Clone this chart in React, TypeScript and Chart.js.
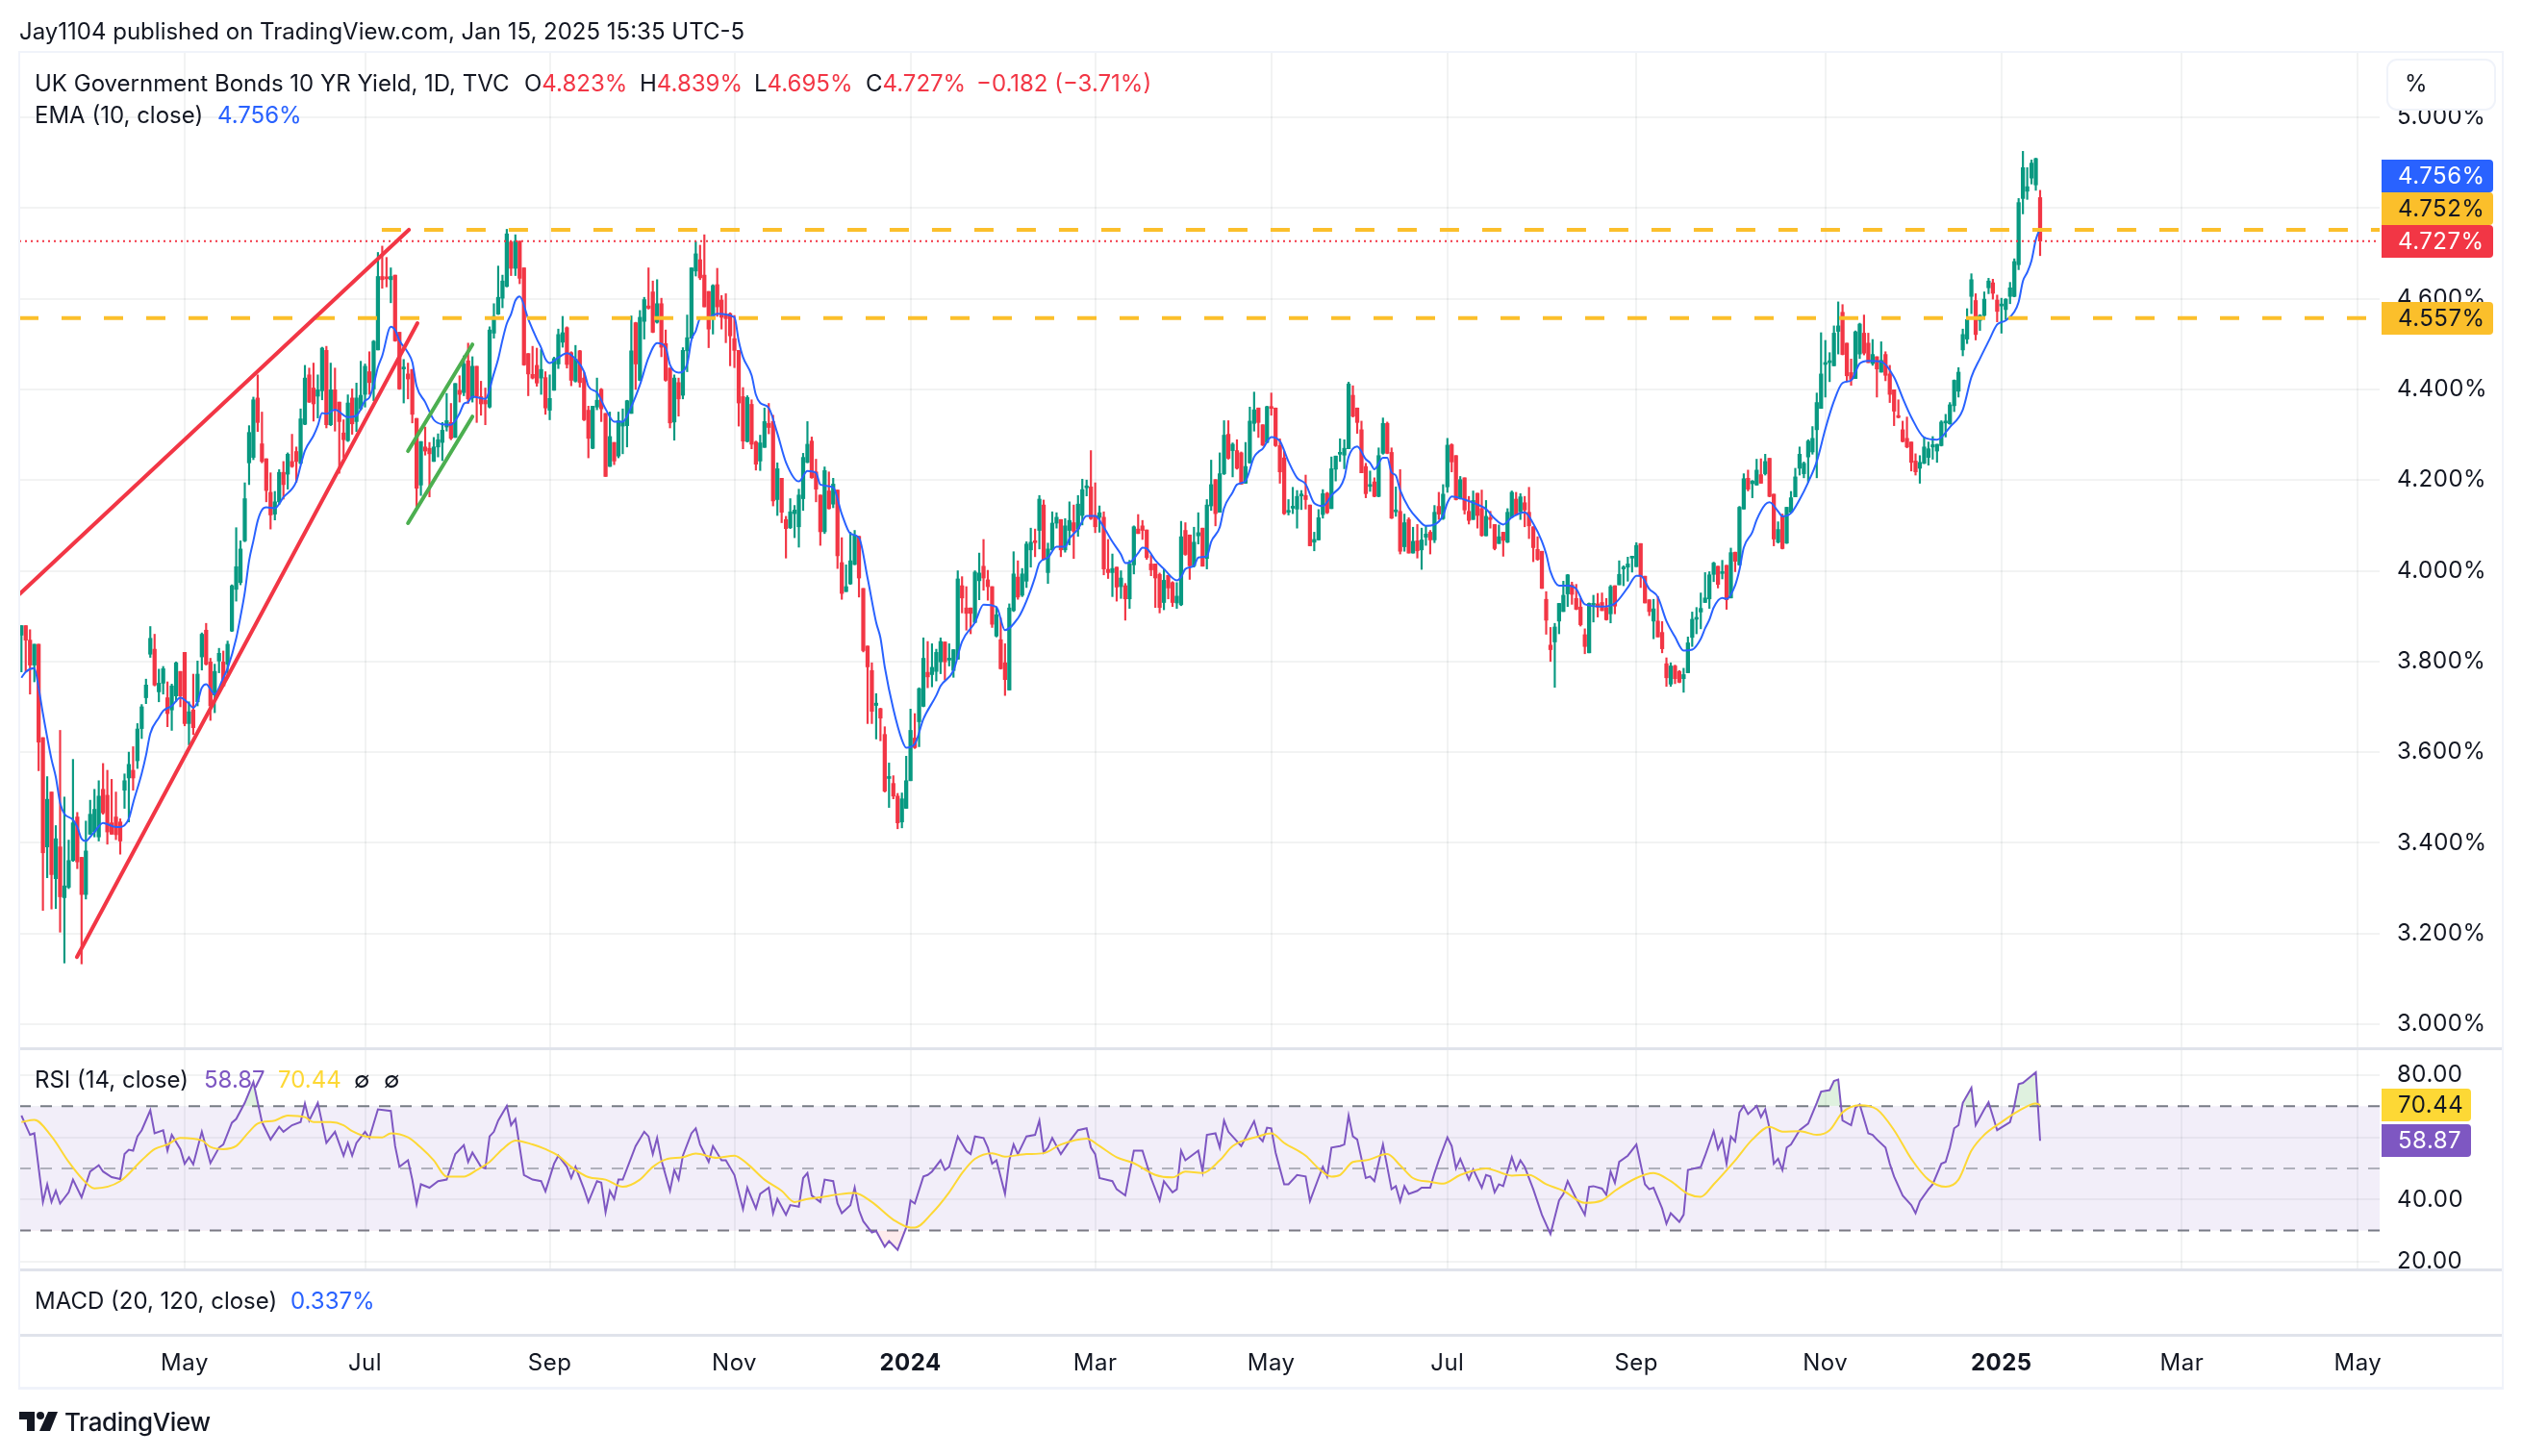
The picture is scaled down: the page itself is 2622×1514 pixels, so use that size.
import React, { useEffect, useRef } from "react";
import { Chart, registerables } from "chart.js";

Chart.register(...registerables);

// Daily candles as [open, high, low, close], oldest first.
const barsSpring2023 = [
[3.858,3.879,3.777,3.879],[3.879,3.879,3.777,3.847],[3.847,3.870,3.728,3.792],[3.792,3.838,3.755,3.838],[3.838,3.838,3.559,3.622],[3.632,3.632,3.251,3.378],[3.391,3.546,3.323,3.496],[3.512,3.512,3.254,3.330],[3.321,3.438,3.255,3.409],[3.391,3.648,3.203,3.281],
[3.279,3.501,3.135,3.305],[3.302,3.406,3.299,3.361],[3.361,3.584,3.359,3.444],[3.457,3.467,3.343,3.358],[3.368,3.368,3.133,3.286],[3.286,3.448,3.276,3.382],[3.419,3.494,3.418,3.463],[3.424,3.518,3.413,3.474],[3.413,3.537,3.404,3.503],[3.518,3.575,3.463,3.466],
[3.505,3.560,3.397,3.424],[3.444,3.540,3.419,3.419],[3.457,3.512,3.407,3.418],[3.446,3.453,3.375,3.404],[3.516,3.552,3.476,3.537],[3.543,3.600,3.446,3.573],[3.560,3.612,3.516,3.543],[3.581,3.663,3.564,3.651],[3.652,3.705,3.630,3.700],[3.720,3.761,3.707,3.748],
[3.816,3.877,3.809,3.851],[3.827,3.860,3.746,3.748],[3.733,3.783,3.711,3.752],[3.752,3.789,3.728,3.784],[3.720,3.755,3.656,3.685],[3.693,3.750,3.648,3.746],[3.724,3.799,3.711,3.797],[3.778,3.778,3.700,3.724],[3.820,3.820,3.658,3.663],[3.663,3.711,3.616,3.689],
[3.693,3.772,3.639,3.654],[3.711,3.801,3.702,3.772],[3.810,3.863,3.781,3.860],[3.869,3.884,3.792,3.794],[3.799,3.807,3.670,3.702],[3.726,3.794,3.687,3.778],[3.801,3.829,3.775,3.818],[3.799,3.823,3.746,3.746],[3.794,3.845,3.766,3.838],[3.867,3.969,3.866,3.967],
[3.959,4.095,3.933,4.009],[3.974,4.066,3.969,4.048],[4.066,4.194,4.064,4.159],[4.238,4.320,4.190,4.305],[4.250,4.383,4.245,4.377],[4.381,4.432,4.307,4.327],[4.280,4.350,4.238,4.241],[4.247,4.247,4.152,4.177],[4.173,4.216,4.092,4.123],[4.125,4.175,4.112,4.152],
[4.152,4.223,4.146,4.217],[4.217,4.241,4.158,4.190],[4.213,4.260,4.180,4.257],[4.241,4.301,4.228,4.230],[4.263,4.273,4.195,4.241],[4.237,4.357,4.235,4.335],[4.323,4.453,4.322,4.425],[4.432,4.447,4.371,4.372],[4.403,4.458,4.330,4.368],[4.385,4.432,4.337,4.399],
[4.397,4.493,4.377,4.491],[4.486,4.495,4.315,4.322],[4.322,4.458,4.320,4.399],[4.399,4.447,4.308,4.357],[4.372,4.372,4.215,4.329],[4.304,4.333,4.250,4.289],[4.287,4.388,4.285,4.370],[4.381,4.401,4.301,4.324],[4.329,4.414,4.307,4.381],
];
const barsSummer2023 = [
[4.357,4.462,4.354,4.387],[4.389,4.456,4.361,4.451],[4.439,4.483,4.389,4.415],[4.401,4.508,4.375,4.506],[4.487,4.702,4.487,4.649],[4.649,4.716,4.623,4.642],[4.647,4.691,4.626,4.644],[4.642,4.668,4.591,4.649],[4.652,4.652,4.506,4.507],[4.526,4.526,4.400,4.401],
[4.445,4.466,4.370,4.448],[4.434,4.458,4.379,4.423],[4.444,4.444,4.326,4.345],[4.336,4.336,4.136,4.182],[4.189,4.285,4.166,4.285],[4.273,4.317,4.255,4.264],[4.270,4.283,4.163,4.258],[4.241,4.294,4.241,4.273],[4.273,4.302,4.251,4.289],[4.283,4.327,4.243,4.310],
[4.317,4.391,4.308,4.331],[4.327,4.369,4.289,4.292],[4.294,4.413,4.294,4.413],[4.398,4.430,4.372,4.389],[4.393,4.474,4.386,4.456],[4.463,4.502,4.369,4.379],[4.381,4.472,4.372,4.451],[4.451,4.451,4.327,4.384],[4.384,4.418,4.343,4.368],[4.376,4.403,4.322,4.368],
[4.361,4.538,4.359,4.531],[4.524,4.589,4.513,4.561],[4.566,4.672,4.565,4.603],[4.601,4.652,4.580,4.639],[4.627,4.753,4.626,4.743],[4.725,4.727,4.651,4.667],[4.667,4.741,4.651,4.727],[4.727,4.727,4.633,4.645],[4.668,4.668,4.453,4.454],[4.479,4.479,4.386,4.434],
[4.433,4.495,4.423,4.425],[4.453,4.491,4.407,4.414],[4.425,4.488,4.389,4.444],[4.426,4.439,4.345,4.359],[4.354,4.432,4.333,4.380],[4.398,4.471,4.398,4.468],[4.456,4.533,4.446,4.521],[4.504,4.561,4.493,4.525],[4.536,4.538,4.447,4.455],[4.481,4.483,4.408,4.420],
[4.418,4.497,4.416,4.467],[4.485,4.486,4.405,4.415],[4.425,4.437,4.331,4.333],[4.354,4.363,4.249,4.292],[4.270,4.363,4.269,4.363],[4.361,4.425,4.355,4.376],[4.400,4.402,4.329,4.357],[4.347,4.347,4.208,4.208],[4.230,4.350,4.230,4.296],[4.283,4.283,4.234,4.242],
[4.253,4.350,4.249,4.331],[4.319,4.357,4.258,4.329],[4.320,4.376,4.273,4.375],[4.347,4.562,4.347,4.485],[4.547,4.548,4.400,4.456],[4.420,4.574,4.419,4.559],[4.550,4.603,4.511,4.598],[4.584,4.668,4.577,4.579],[4.615,4.639,4.525,4.526],[4.548,4.642,4.546,4.589],
[4.589,4.601,4.472,4.493],[4.501,4.531,4.418,4.420],[4.447,4.447,4.315,4.326],[4.328,4.432,4.288,4.425],[4.415,4.425,4.341,4.379],[4.387,4.492,4.379,4.486],[4.485,4.564,4.439,4.514],[4.513,4.668,4.513,4.668],
];
const barsWinter2023 = [
[4.661,4.726,4.650,4.699],[4.686,4.718,4.642,4.646],[4.652,4.741,4.582,4.582],[4.616,4.616,4.492,4.533],[4.559,4.631,4.522,4.629],[4.631,4.667,4.561,4.582],[4.597,4.607,4.533,4.559],[4.563,4.611,4.503,4.556],[4.567,4.569,4.452,4.518],[4.512,4.563,4.448,4.486],
[4.486,4.486,4.319,4.370],[4.384,4.404,4.269,4.286],[4.285,4.386,4.284,4.382],[4.367,4.377,4.269,4.279],[4.284,4.286,4.222,4.235],[4.242,4.299,4.221,4.282],[4.272,4.359,4.272,4.329],[4.325,4.369,4.302,4.316],[4.329,4.343,4.143,4.154],[4.157,4.238,4.122,4.225],
[4.204,4.204,4.106,4.129],[4.113,4.120,4.028,4.093],[4.095,4.159,4.093,4.130],[4.126,4.144,4.073,4.134],[4.097,4.180,4.052,4.167],[4.159,4.259,4.133,4.250],[4.239,4.329,4.238,4.279],[4.286,4.295,4.204,4.205],[4.218,4.246,4.152,4.180],[4.167,4.167,4.056,4.086],
[4.086,4.229,4.082,4.221],[4.176,4.218,4.136,4.137],[4.147,4.204,4.139,4.191],[4.178,4.178,4.005,4.033],[4.018,4.073,3.937,3.950],[3.954,4.013,3.954,3.965],[3.971,4.085,3.970,4.022],[4.014,4.089,4.013,4.078],[4.076,4.076,3.942,3.984],[3.961,3.961,3.821,3.824],
[3.834,3.834,3.663,3.788],[3.780,3.797,3.663,3.690],[3.703,3.729,3.629,3.708],[3.696,3.697,3.625,3.675],[3.639,3.656,3.512,3.514],[3.542,3.576,3.478,3.545],[3.531,3.548,3.497,3.503],[3.503,3.509,3.431,3.444],[3.446,3.510,3.433,3.497],[3.476,3.591,3.476,3.537],
[3.537,3.695,3.537,3.648],[3.631,3.685,3.608,3.610],[3.667,3.742,3.612,3.740],[3.701,3.852,3.700,3.807],[3.776,3.844,3.742,3.766],[3.771,3.839,3.744,3.787],[3.778,3.827,3.757,3.820],[3.799,3.852,3.773,3.844],[3.843,3.843,3.759,3.799],[3.803,3.839,3.790,3.805],
[3.780,3.826,3.765,3.826],[3.805,4.000,3.805,3.982],[3.967,3.987,3.907,3.940],[3.918,3.965,3.869,3.906],[3.918,3.918,3.861,3.906],[3.886,4.000,3.885,3.997],[3.978,4.039,3.936,3.995],[4.010,4.069,3.957,3.984],[3.980,4.001,3.935,3.965],[3.965,3.965,3.875,3.882],
[3.856,3.920,3.854,3.903],[3.848,3.896,3.783,3.784],[3.797,3.839,3.725,3.760],[3.737,3.927,3.737,3.918],[3.912,4.042,3.910,3.993],[3.986,4.022,3.937,3.942],[3.946,4.005,3.943,3.993],[3.977,4.064,3.963,4.059],
];
const barsSpring2024 = [
[4.046,4.094,4.008,4.063],[4.065,4.092,4.031,4.062],[4.089,4.166,4.048,4.158],[4.145,4.156,4.024,4.025],[3.996,4.061,3.972,4.048],[4.046,4.130,4.045,4.105],[4.105,4.128,4.094,4.118],[4.113,4.113,4.031,4.046],[4.046,4.115,4.041,4.099],[4.089,4.152,4.057,4.111],
[4.106,4.145,4.027,4.087],[4.092,4.166,4.076,4.147],[4.122,4.202,4.101,4.179],[4.183,4.200,4.165,4.185],[4.185,4.265,4.113,4.115],[4.122,4.194,4.084,4.097],[4.118,4.143,4.085,4.128],[4.118,4.130,3.991,4.004],[4.003,4.069,3.983,3.996],[3.996,4.037,3.943,4.005],
[4.008,4.008,3.933,3.964],[3.965,4.000,3.939,3.984],[3.967,3.972,3.891,3.938],[3.938,4.023,3.917,4.015],[4.013,4.099,3.993,4.097],[4.092,4.124,4.082,4.082],[4.099,4.111,4.069,4.089],[4.090,4.090,4.025,4.029],[4.015,4.034,3.989,4.002],[4.015,4.015,3.919,3.984],
[3.992,3.995,3.907,3.919],[3.930,4.004,3.914,3.979],[3.990,3.990,3.938,3.962],[3.974,3.976,3.921,3.930],[3.929,3.974,3.917,3.944],[3.925,4.109,3.923,4.075],[4.089,4.106,4.034,4.036],[4.079,4.079,3.981,4.011],[4.011,4.096,4.008,4.063],[4.077,4.128,4.059,4.084],
[4.094,4.094,4.010,4.010],[4.027,4.157,4.004,4.145],[4.143,4.244,4.133,4.190],[4.201,4.201,4.099,4.126],[4.129,4.260,4.129,4.214],[4.214,4.331,4.212,4.299],[4.301,4.331,4.246,4.248],[4.265,4.282,4.207,4.279],[4.265,4.289,4.224,4.226],[4.260,4.262,4.191,4.191],
[4.193,4.283,4.193,4.230],[4.238,4.361,4.237,4.330],[4.325,4.394,4.308,4.355],[4.359,4.359,4.294,4.327],[4.322,4.322,4.276,4.277],[4.283,4.363,4.282,4.362],[4.361,4.392,4.343,4.358],[4.359,4.359,4.274,4.276],[4.276,4.291,4.193,4.218],[4.249,4.264,4.124,4.126],
[4.129,4.157,4.123,4.132],[4.138,4.184,4.126,4.141],[4.136,4.177,4.094,4.164],[4.165,4.177,4.135,4.168],[4.166,4.211,4.136,4.157],[4.145,4.145,4.055,4.055],[4.063,4.085,4.044,4.069],[4.068,4.135,4.068,4.117],[4.124,4.179,4.116,4.170],[4.171,4.173,4.126,4.128],
[4.137,4.251,4.137,4.225],[4.224,4.253,4.198,4.253],[4.257,4.291,4.241,4.260],[4.255,4.289,4.225,4.270],[4.269,4.416,4.269,4.412],[4.387,4.408,4.339,4.341],[4.359,4.359,4.303,4.327],[4.311,4.330,4.216,4.216],[4.230,4.237,4.161,4.170],
];
const barsSummer2024 = [
[4.186,4.220,4.175,4.189],[4.196,4.205,4.163,4.164],[4.164,4.271,4.163,4.254],[4.259,4.337,4.257,4.325],[4.325,4.328,4.258,4.259],[4.261,4.271,4.115,4.116],[4.130,4.185,4.120,4.133],[4.131,4.223,4.037,4.043],[4.053,4.125,4.043,4.106],[4.113,4.117,4.039,4.039],
[4.039,4.096,4.039,4.065],[4.066,4.102,4.028,4.044],[4.046,4.094,4.003,4.068],[4.074,4.099,4.056,4.081],[4.085,4.089,4.037,4.068],[4.068,4.144,4.062,4.129],[4.142,4.173,4.113,4.125],[4.115,4.190,4.113,4.169],[4.185,4.292,4.173,4.277],[4.278,4.280,4.218,4.240],
[4.254,4.254,4.156,4.157],[4.159,4.208,4.158,4.201],[4.205,4.205,4.125,4.134],[4.131,4.164,4.103,4.111],[4.113,4.176,4.113,4.155],[4.171,4.171,4.094,4.122],[4.137,4.178,4.076,4.078],[4.077,4.155,4.077,4.120],[4.116,4.131,4.094,4.113],[4.102,4.102,4.046,4.049],
[4.060,4.101,4.060,4.075],[4.085,4.085,4.032,4.067],[4.063,4.137,4.062,4.129],[4.118,4.176,4.117,4.173],[4.158,4.173,4.122,4.124],[4.130,4.170,4.113,4.163],[4.150,4.164,4.097,4.134],[4.129,4.184,4.071,4.099],[4.097,4.097,4.020,4.051],[4.047,4.075,4.023,4.025],
[4.043,4.043,3.961,3.961],[3.937,3.954,3.860,3.891],[3.836,3.875,3.800,3.826],[3.843,3.884,3.743,3.876],[3.889,3.928,3.861,3.928],[3.910,3.977,3.910,3.946],[3.949,3.992,3.921,3.991],[3.969,3.975,3.926,3.948],[3.939,3.970,3.914,3.915],[3.920,3.939,3.878,3.881],
[3.859,3.872,3.817,3.833],[3.819,3.929,3.819,3.928],[3.924,3.946,3.887,3.927],[3.927,3.950,3.898,3.920],[3.930,3.951,3.912,3.912],[3.919,3.939,3.891,3.892],[3.905,3.968,3.885,3.965],[3.967,3.967,3.905,3.922],[3.969,4.022,3.969,3.992],[4.004,4.011,3.967,4.007],
[4.008,4.030,3.977,4.015],[4.028,4.032,3.997,4.032],[4.009,4.062,4.009,4.056],[4.060,4.060,3.963,3.988],[3.988,3.988,3.929,3.929],[3.936,3.936,3.901,3.910],[3.889,3.937,3.850,3.916],[3.889,3.943,3.854,3.854],[3.864,3.888,3.819,3.828],[3.795,3.808,3.745,3.764],
[3.750,3.797,3.745,3.790],[3.790,3.792,3.751,3.762],[3.778,3.780,3.753,3.754],[3.762,3.785,3.732,3.771],[3.775,3.854,3.775,3.841],[3.853,3.909,3.833,3.893],[3.893,3.919,3.861,3.896],[3.909,3.951,3.872,3.917],
];
const barsWinter2024 = [
[3.930,3.996,3.930,3.940],[3.938,3.998,3.917,3.991],[3.992,4.019,3.976,4.017],[4.010,4.010,3.962,3.970],[3.994,4.023,3.982,3.998],[4.012,4.012,3.915,3.936],[3.940,4.050,3.940,4.040],[4.041,4.041,3.998,4.021],[4.013,4.142,4.012,4.140],[4.136,4.214,4.136,4.203],
[4.204,4.222,4.176,4.180],[4.192,4.199,4.161,4.198],[4.189,4.246,4.189,4.222],[4.212,4.247,4.193,4.193],[4.214,4.257,4.211,4.241],[4.248,4.248,4.163,4.164],[4.169,4.169,4.055,4.070],[4.063,4.108,4.061,4.091],[4.120,4.125,4.048,4.049],[4.061,4.140,4.060,4.140],
[4.129,4.175,4.129,4.161],[4.163,4.226,4.163,4.207],[4.226,4.273,4.211,4.257],[4.214,4.240,4.205,4.237],[4.251,4.289,4.195,4.286],[4.262,4.318,4.257,4.292],[4.311,4.392,4.205,4.371],[4.358,4.525,4.358,4.434],[4.455,4.508,4.383,4.458],[4.459,4.481,4.417,4.462],
[4.452,4.540,4.452,4.524],[4.528,4.593,4.478,4.540],[4.570,4.587,4.476,4.477],[4.502,4.502,4.417,4.430],[4.437,4.467,4.409,4.422],[4.424,4.529,4.424,4.527],[4.478,4.546,4.468,4.544],[4.524,4.564,4.476,4.480],[4.502,4.524,4.459,4.459],[4.457,4.510,4.453,4.477],
[4.472,4.472,4.383,4.445],[4.438,4.505,4.438,4.464],[4.477,4.483,4.419,4.431],[4.434,4.453,4.371,4.389],[4.399,4.399,4.320,4.352],[4.341,4.377,4.337,4.338],[4.311,4.330,4.284,4.285],[4.292,4.339,4.271,4.273],[4.284,4.284,4.220,4.239],[4.242,4.258,4.211,4.218],
[4.226,4.254,4.193,4.239],[4.237,4.295,4.236,4.273],[4.250,4.284,4.233,4.269],[4.273,4.296,4.246,4.278],[4.264,4.279,4.239,4.279],[4.276,4.331,4.275,4.328],[4.326,4.345,4.295,4.329],[4.324,4.371,4.323,4.366],[4.364,4.421,4.351,4.420],[4.396,4.448,4.383,4.438],
[4.487,4.533,4.474,4.521],[4.511,4.578,4.501,4.554],[4.605,4.655,4.567,4.642],[4.596,4.611,4.509,4.521],[4.552,4.565,4.530,4.563],[4.563,4.615,4.561,4.599],[4.624,4.645,4.611,4.639],[4.635,4.643,4.599,4.612],[4.597,4.608,4.549,4.572],[4.584,4.601,4.524,4.587],
[4.576,4.600,4.554,4.599],[4.605,4.636,4.589,4.624],[4.605,4.688,4.604,4.682],[4.675,4.821,4.664,4.812],[4.821,4.925,4.787,4.889],[4.837,4.889,4.819,4.847],[4.866,4.906,4.853,4.899],[4.851,4.910,4.839,4.909],[4.823,4.839,4.695,4.727],
];

// EMA (10) as [bar index, value].
const emaPoints = [
[0,3.764],[1,3.777],[3,3.785],[4,3.742],[5,3.685],[7,3.584],[8,3.545],[9,3.488],[10,3.464],[12,3.451],[13,3.435],[14,3.409],[15,3.404],[16,3.413],[17,3.424],[19,3.444],[20,3.441],[22,3.435],[23,3.435],[25,3.453],[26,3.488],[28,3.553],[29,3.593],[30,3.641],[32,3.676],[33,3.691],[35,3.702],[37,3.720],[39,3.707],[40,3.698],[41,3.711],[42,3.742],[43,3.750],[45,3.728],[47,3.764],[48,3.785],[50,3.851],[51,3.899],[52,3.952],[53,4.022],[54,4.066],[55,4.110],[56,4.134],[57,4.140],[59,4.138],[61,4.162],[64,4.197],[65,4.232],[66,4.265],[68,4.298],[69,4.320],[70,4.348],[71,4.346],[73,4.355],[76,4.339],[78,4.342],
[80,4.375],[81,4.382],[82,4.410],[83,4.449],[84,4.474],[86,4.538],[87,4.531],[88,4.508],[90,4.481],[91,4.460],[92,4.407],[94,4.372],[96,4.333],[98,4.323],[100,4.322],[102,4.347],[103,4.368],[104,4.372],[105,4.384],[108,4.379],[110,4.435],[111,4.467],[112,4.509],[113,4.545],[114,4.566],[115,4.596],[116,4.605],[118,4.555],[120,4.511],[121,4.492],[122,4.467],[123,4.458],[125,4.470],[127,4.480],[129,4.467],[131,4.439],[132,4.407],[134,4.393],[136,4.357],[138,4.329],[140,4.329],[142,4.362],[144,4.410],[146,4.470],[148,4.502],[150,4.492],[151,4.454],[153,4.437],[155,4.456],[156,4.509],
[157,4.529],[158,4.556],[160,4.559],[162,4.567],[166,4.559],[167,4.507],[168,4.471],[170,4.431],[171,4.388],[172,4.370],[174,4.359],[176,4.303],[178,4.239],[181,4.197],[183,4.220],[185,4.216],[186,4.190],[189,4.184],[191,4.125],[193,4.082],[195,4.073],[197,3.984],[199,3.886],[200,3.852],[201,3.788],[203,3.695],[205,3.627],[206,3.610],[208,3.618],[210,3.673],[213,3.725],[214,3.746],[217,3.780],[219,3.844],[222,3.886],[224,3.925],[227,3.920],[229,3.869],[232,3.895],[233,3.912],
[235,3.958],[236,3.986],[237,4.017],[239,4.029],[241,4.053],[243,4.053],[244,4.071],[246,4.092],[248,4.121],[250,4.121],[252,4.096],[254,4.064],[256,4.036],[257,4.017],[258,4.018],[260,4.039],[261,4.051],[262,4.049],[264,4.023],[266,4.004],[269,3.979],[270,3.986],[271,4.004],[273,4.011],[274,4.029],[276,4.032],[277,4.064],[279,4.096],[280,4.138],[282,4.173],[283,4.190],[285,4.198],[287,4.251],[288,4.262],[289,4.269],[291,4.295],[293,4.286],[295,4.241],[297,4.205],[299,4.191],[301,4.149],[303,4.143],[305,4.166],[308,4.205],[309,4.251],[311,4.274],[313,4.246],
[314,4.238],[315,4.224],[317,4.249],[318,4.249],[319,4.217],[320,4.210],[321,4.178],[323,4.139],[325,4.115],[327,4.099],[329,4.102],[331,4.122],[332,4.150],[333,4.164],[336,4.157],[339,4.146],[341,4.136],[343,4.115],[345,4.102],[347,4.118],[350,4.129],[352,4.104],[354,4.065],[355,4.037],[356,3.998],[358,3.967],[360,3.967],[362,3.960],[364,3.926],[368,3.921],[371,3.928],[374,3.963],[376,3.989],[377,3.989],[379,3.960],[381,3.942],[383,3.889],[385,3.854],[387,3.824],[389,3.826],[391,3.850],
[392,3.873],[393,3.892],[394,3.919],[396,3.940],[397,3.938],[399,3.968],[400,4.002],[401,4.051],[403,4.085],[404,4.112],[406,4.146],[407,4.151],[409,4.131],[410,4.120],[412,4.127],[414,4.157],[416,4.195],[418,4.241],[420,4.313],[422,4.374],[424,4.414],[426,4.420],[428,4.457],[430,4.463],[433,4.461],[436,4.427],[438,4.381],[440,4.339],[443,4.294],[446,4.289],[449,4.317],[452,4.355],[454,4.427],[456,4.468],[458,4.506],[460,4.543],[462,4.552],[464,4.571],[465,4.593],[466,4.639],[467,4.658],[468,4.684],[469,4.730],[470,4.756],
];

// RSI (14) as [bar index, value].
const rsiPoints = [
[0,67.0],[1,63.9],[2,60.8],[3,61.3],[5,39.2],[6,44.9],[7,39.2],[8,42.8],[9,38.7],[11,42.3],[12,46.4],[14,40.7],[16,49.0],[17,50.0],[18,51.0],[19,49.0],[21,47.2],[23,46.6],[24,54.6],[25,56.0],[26,55.7],[27,60.3],[28,62.3],[30,68.7],[31,61.3],[33,62.3],[34,55.7],[35,60.8],[37,56.2],[38,51.5],[39,53.6],[40,51.3],[42,61.8],[44,51.7],[46,56.7],[47,57.7],[49,64.7],[50,65.9],[52,71.1],[54,77.8],[56,64.9],[58,59.3],[60,63.4],[61,61.8],[63,63.9],[65,64.9],[66,70.9],[67,65.4],[69,71.1],[71,58.2],[73,61.8],[75,54.1],[76,58.2],[77,54.1],[78,58.2],[80,61.8],[81,59.8],[83,69.0],[86,68.5],[87,57.2],[88,50.5],[90,52.6],[91,46.4],[92,38.5],[93,44.9],[95,43.8],[97,45.9],[99,46.4],[101,54.6],[103,57.5],[104,52.1],[105,55.1],[107,50.5],[108,50.0],[109,60.3],[110,61.8],[111,65.4],[113,70.1],[114,63.9],[115,65.9],[117,47.9],[119,46.4],[121,45.9],[122,42.6],[124,51.5],[125,54.1],[127,50.5],[128,46.9],[129,50.5],[131,43.3],[132,39.2],[134,45.9],[135,45.4],[136,35.9],[137,42.8],[138,40.2],[139,46.4],[140,46.4],[142,53.6],[143,57.2],[145,61.8],[146,60.3],[147,54.6],[148,59.8],[149,52.6],[151,42.8],[152,49.5],[153,46.4],[154,54.1],[156,61.3],[157,62.9],[158,57.7],[160,52.1],[161,57.2],[163,52.6],[164,52.6],[166,47.9],[168,36.9],[169,43.8],[171,37.1],[172,41.8],[174,43.8],[175,35.6],[176,40.2],[178,35.1],[179,38.2],[181,37.7],[182,46.9],[183,48.5],[184,41.3],[186,39.2],[187,46.4],[189,45.9],[190,38.7],[191,35.6],[193,38.2],[194,43.8],[195,36.6],[196,33.0],[198,29.4],[199,29.9],[201,24.8],[202,26.6],[204,23.8],[206,31.0],[207,39.7],[208,38.7],[210,47.4],[211,47.9],[212,49.0],[214,52.6],[215,49.5],[216,50.5],[218,60.3],[220,55.7],[221,54.6],[222,60.3],[224,59.8],[225,56.7],[226,51.5],[227,52.6],[229,41.8],[230,52.6],[231,57.7],[232,54.6],[234,60.3],[236,60.8],[237,65.4],[238,55.1],[239,56.7],[240,59.8],[242,54.6],[244,58.7],[246,62.3],[248,62.9],[249,56.7],[250,54.6],[251,46.9],[254,45.9],[255,43.3],[257,41.3],[259,55.7],[261,55.7],[263,46.9],[265,39.7],[266,45.9],[268,42.3],[269,43.3],[270,55.7],[271,52.6],[274,55.7],[275,49.0],[276,60.8],[278,61.3],[279,56.7],[280,65.4],[281,61.8],[284,57.2],[287,65.2],[288,60.3],
[289,58.7],[290,63.1],[291,62.9],[292,55.1],[294,44.9],[295,44.9],[297,47.9],[299,47.4],[300,39.5],[302,46.9],[303,50.5],[304,47.4],[305,56.7],[307,57.2],[308,57.7],[309,67.0],[310,60.3],[311,59.3],[313,46.9],[314,47.4],[315,45.9],[317,57.7],[319,43.3],[320,44.3],[321,39.4],[322,44.3],[323,41.8],[325,42.8],[326,43.8],[328,43.8],[329,48.5],[330,52.6],[332,60.0],[333,57.2],[334,50.0],[335,53.1],[337,46.4],[338,49.7],[340,43.8],[341,47.9],[342,47.4],[343,42.3],[344,44.9],[345,44.3],[347,53.6],[348,49.5],[349,52.6],[350,50.5],[352,43.3],[354,35.1],[356,28.9],[358,39.7],[359,41.8],[360,45.9],[362,40.2],[364,35.1],[365,44.1],[366,44.3],[368,43.5],[369,41.5],[370,49.0],[371,45.4],[372,52.1],[374,54.1],[376,57.7],[378,44.9],[379,43.3],[380,43.8],[382,37.1],[383,32.2],[384,35.6],[386,32.8],[387,35.1],[388,49.5],[391,50.5],[392,54.1],[394,62.0],[395,56.2],[396,59.3],[397,51.5],[398,60.3],[399,58.7],[400,68.0],[401,70.1],[402,67.5],[404,70.1],[405,66.5],[406,69.0],[407,62.9],[408,51.5],[409,53.1],[410,49.5],[411,56.7],[412,57.7],[414,62.3],[416,64.4],[418,71.1],[419,74.7],[421,75.2],[422,78.1],[423,78.6],[424,65.4],[426,63.9],[427,69.5],[428,70.6],[430,61.3],[431,60.8],[432,59.3],[434,56.7],[435,51.5],[436,47.4],[438,41.3],[440,38.2],[441,35.6],[442,39.4],[444,43.3],[445,44.9],[447,51.5],[448,52.1],[449,56.7],[450,62.9],[451,63.9],[452,71.1],[454,75.9],[455,63.9],[457,69.0],[458,71.3],[460,62.3],[463,64.9],[464,70.1],[465,77.1],[466,77.5],[469,80.9],[470,58.87],
];

// RSI-based moving average as [bar index, value].
const rsiMaPoints = [
[0,64.9],[3,65.6],[7,60.3],[11,52.1],[14,46.9],[17,43.6],[23,45.9],[28,52.6],[31,56.2],[34,57.7],[37,59.8],[42,59.0],[44,56.9],[47,56.2],[50,57.2],[53,61.8],[55,64.4],[59,65.4],[62,67.0],[66,66.5],[68,64.9],[72,64.9],[75,63.9],[77,62.0],[81,60.1],[84,60.0],[86,61.3],[90,60.0],[93,56.7],[96,52.6],[99,47.4],[103,47.4],[106,49.5],[109,52.1],[112,56.2],[115,59.0],[119,57.7],[122,56.2],[125,54.1],[128,50.5],[132,47.2],[136,46.4],[140,44.1],[144,46.4],[147,50.5],[150,52.9],[154,53.6],[157,54.8],[162,53.4],[166,54.1],[169,51.5],[173,46.4],[177,42.8],[180,39.2],[183,40.2],[186,40.7],[190,41.6],[194,42.1],[198,39.2],[203,33.5],[207,31.0],[208,31.0],[212,35.6],[216,42.3],[219,48.5],[222,53.1],[226,54.9],[229,53.8],[234,54.6],[238,54.9],[242,57.7],[248,59.6],[251,57.2],[255,53.6],[259,51.7],[264,47.9],[268,47.1],[271,49.0],[275,48.5],[279,52.6],[282,57.2],[288,60.3],
[291,61.3],[294,58.2],[299,54.1],[302,50.0],[305,47.4],[307,47.9],[310,52.1],[313,52.6],[318,54.6],[321,51.0],[324,46.9],[328,45.7],[331,45.1],[335,47.9],[341,50.0],[347,47.7],[351,47.9],[355,44.9],[359,42.8],[364,38.9],[368,39.7],[371,42.8],[376,46.9],[380,48.5],[384,45.9],[388,41.8],[391,40.9],[394,44.9],[399,52.6],[403,59.3],[407,63.4],[410,61.8],[414,62.0],[418,60.8],[421,62.3],[424,68.0],[428,70.3],[432,69.0],[436,62.3],[440,53.1],[444,46.4],[448,44.1],[451,46.4],[454,55.7],[457,60.8],[461,64.9],[465,68.5],[469,70.9],[470,70.44],
];

// Drawn levels and trend lines.
const upperLevel = 4.752;
const lowerLevel = 4.557;
const lastClose = 4.727;
const wedgeUpper = [[-0.5,3.948],[90.2,4.752]];
const wedgeLower = [[12.9,3.148],[92.2,4.546]];
const channelUpper = [[90,4.264],[105,4.499]];
const channelLower = [[90,4.105],[105,4.340]];

// Axes.
const monthTicks = [38,80,123,166,207,250,291,332,376,420,461,503,544];
const monthLabels = ["May","Jul","Sep","Nov","2024","Mar","May","Jul","Sep","Nov","2025","Mar","May"];
const priceTicks = [5,4.8,4.6,4.4,4.2,4,3.8,3.6,3.4,3.2,3];
const rsiTicks = [80,60,40,20];

const FONT = "Inter, 'Noto Sans', sans-serif";
const TEXT = "#131722";
const UP = "#089981";
const DOWN = "#F23645";
const BLUE = "#2962FF";
const ORANGE = "#FBBF2B";
const PURPLE = "#7E57C2";
const YELLOW = "#FDD835";

// Screen layout in page pixels.
const L = 20, R = 2474, FR = 2602, TOP = 54, P1 = 1091, P2 = 1321, P3 = 1389, BOT = 1444;
const PRICE_MAX = 5 + (122 - TOP) / 471.5;
const PRICE_MIN = 3 - (P1 - 1065) / 471.5;

const priceBadges = [
  { text: "4.756%", fill: BLUE, color: "#fff", y: 166 },
  { text: "4.752%", fill: ORANGE, color: "#131722", y: 200 },
  { text: "4.727%", fill: DOWN, color: "#fff", y: 234 },
  { text: "4.557%", fill: ORANGE, color: "#131722", y: 314 },
];
const rsiBadges = [
  { text: "70.44", fill: YELLOW, color: "#131722", y: 1132 },
  { text: "58.87", fill: PURPLE, color: "#fff", y: 1169 },
];

const overlayPlugin = {
  id: "tvOverlay",
  beforeDraw(chart: any) {
    chart.ctx.letterSpacing = "0.5px";
  },
  afterDraw(chart: any) {
    const c = chart.ctx;
    c.save();
    c.fillStyle = "#fff";
    c.fillRect(L, P2, FR - L, P3 - P2);
    c.fillStyle = "#E0E3EB";
    c.fillRect(L, P1 - 2, FR - L, 3);
    c.fillRect(L, P2 - 2, FR - L, 3);
    c.fillRect(L, P3 - 2, FR - L, 3);
    c.fillStyle = "#F0F3FA";
    c.fillRect(L - 1, TOP - 1, FR - L + 2, 2);
    c.fillRect(L - 1, BOT - 2, FR - L + 2, 3);
    c.fillRect(L - 1, TOP - 1, 2, BOT - TOP + 1);
    c.fillRect(FR - 1, TOP - 1, 2, BOT - TOP + 1);

    // Unit button over the top of the price axis.
    c.fillStyle = "#fff";
    c.strokeStyle = "#F0F3FA";
    c.lineWidth = 2;
    c.beginPath();
    c.roundRect(2482, 62, 112, 52, 10);
    c.fill();
    c.stroke();
    c.fillStyle = TEXT;
    c.font = `24px ${FONT}`;
    c.textBaseline = "middle";
    c.textAlign = "left";
    c.fillText("%", 2500, 88);

    const badge = (b: any, w: number) => {
      c.fillStyle = b.fill;
      c.beginPath();
      c.roundRect(2476, b.y, w, 34, [0, 4, 4, 0]);
      c.fill();
      c.fillStyle = b.color;
      c.fillText(b.text, 2493, b.y + 18);
    };
    priceBadges.forEach((b) => badge(b, 116));
    rsiBadges.forEach((b) => badge(b, 93));
    c.restore();
  },
};

const legendRows = [
  { top: 32, left: 20, parts: [{ t: "Jay1104 published on TradingView.com, Jan 15, 2025 15:35 UTC-5", c: TEXT }] },
  { top: 86, left: 36, parts: [{ t: "UK Government Bonds 10 YR Yield, 1D, TVC", c: TEXT }] },
  { top: 86, left: 545, parts: [{ t: "O", c: TEXT }, { t: "4.823%", c: DOWN }] },
  { top: 86, left: 665, parts: [{ t: "H", c: TEXT }, { t: "4.839%", c: DOWN }] },
  { top: 86, left: 784, parts: [{ t: "L", c: TEXT }, { t: "4.695%", c: DOWN }] },
  { top: 86, left: 900, parts: [{ t: "C", c: TEXT }, { t: "4.727%", c: DOWN }] },
  { top: 86, left: 1015, parts: [{ t: "−0.182 (−3.71%)", c: DOWN }] },
  { top: 119, left: 36, parts: [{ t: "EMA (10, close)", c: TEXT }] },
  { top: 119, left: 226, parts: [{ t: "4.756%", c: BLUE }] },
  { top: 1122, left: 36, parts: [{ t: "RSI (14, close)", c: TEXT }] },
  { top: 1122, left: 212, parts: [{ t: "58.87", c: PURPLE }] },
  { top: 1122, left: 289, parts: [{ t: "70.44", c: YELLOW }] },
  { top: 1122, left: 368, parts: [{ t: "∅", c: TEXT }] },
  { top: 1122, left: 399, parts: [{ t: "∅", c: TEXT }] },
  { top: 1352, left: 36, parts: [{ t: "MACD (20, 120, close)", c: TEXT }] },
  { top: 1352, left: 302, parts: [{ t: "0.337%", c: BLUE }] },
];

const toXY = (pts: number[][]) => pts.map(([x, y]) => ({ x, y }));

export default function App() {
  const ref = useRef<HTMLCanvasElement | null>(null);
  useEffect(() => {
    const bars = [...barsSpring2023, ...barsSummer2023, ...barsWinter2023, ...barsSpring2024, ...barsSummer2024, ...barsWinter2024];
    const colors = bars.map(([o, , , c]) => (c >= o ? UP : DOWN));
    const pitch = (2121 - 22.3) / (bars.length - 1);
    const xMin = -(22.3 - L) / pitch;
    const xMax = xMin + (R - L) / pitch;

    const hLine = (y: number, from: number, color: string, dash: number[], width: number, order: number) => ({
      type: "line",
      data: [{ x: from, y }, { x: xMax, y }],
      borderColor: color,
      borderDash: dash,
      borderWidth: width,
      pointRadius: 0,
      yAxisID: "y",
      order,
    });
    const segLine = (pts: number[][], color: string) => ({
      type: "line",
      data: toXY(pts),
      borderColor: color,
      borderWidth: 4,
      borderCapStyle: "round",
      pointRadius: 0,
      yAxisID: "y",
      order: 1,
    });
    const rsiLine = (y: number, color: string) => ({
      type: "line",
      data: [{ x: xMin, y }, { x: xMax, y }],
      borderColor: color,
      borderDash: [12, 10],
      borderWidth: 2,
      pointRadius: 0,
      yAxisID: "rsi",
      order: 8,
    });

    const chart = new Chart(ref.current as HTMLCanvasElement, {
      type: "bar",
      data: {
        datasets: [
          { type: "bar", label: "wick", data: bars.map(([, h, l], i) => ({ x: i, y: [l, h] })), backgroundColor: colors, barThickness: 1.5, grouped: false, yAxisID: "y", order: 6 },
          { type: "bar", label: "body", data: bars.map(([o, , , c], i) => ({ x: i, y: [o, c] })), backgroundColor: colors, barThickness: 3.6, minBarLength: 2, grouped: false, yAxisID: "y", order: 5 },
          { type: "line", label: "EMA", data: toXY(emaPoints), borderColor: BLUE, borderWidth: 2, pointRadius: 0, cubicInterpolationMode: "monotone", yAxisID: "y", order: 4 },
          hLine(lastClose, xMin, DOWN, [2, 4], 2, 3),
          hLine(upperLevel, 83.9, ORANGE, [20, 24], 4, 2),
          hLine(lowerLevel, xMin, ORANGE, [20, 24], 4, 2),
          segLine(wedgeUpper, DOWN),
          segLine(wedgeLower, DOWN),
          segLine(channelUpper, "#4CAF50"),
          segLine(channelLower, "#4CAF50"),
          { type: "line", label: "band", data: [{ x: xMin, y: 70 }, { x: xMax, y: 70 }], borderWidth: 0, pointRadius: 0, fill: { target: { value: 30 }, below: "rgba(126,87,194,0.1)", above: "rgba(126,87,194,0.1)" }, yAxisID: "rsi", order: 9 },
          rsiLine(70, "#787B86"),
          rsiLine(50, "rgba(120,123,134,0.55)"),
          rsiLine(30, "#787B86"),
          { type: "line", label: "RSI", data: toXY(rsiPoints), borderColor: PURPLE, borderWidth: 2, pointRadius: 0, fill: { target: { value: 70 }, above: "rgba(76,175,80,0.18)", below: "transparent" }, yAxisID: "rsi", order: 3 },
          { type: "line", label: "RSI low", data: toXY(rsiPoints), borderWidth: 0, pointRadius: 0, fill: { target: { value: 30 }, above: "transparent", below: "rgba(242,54,69,0.1)" }, yAxisID: "rsi", order: 4 },
          { type: "line", label: "RSI MA", data: toXY(rsiMaPoints), borderColor: YELLOW, borderWidth: 2, pointRadius: 0, cubicInterpolationMode: "monotone", yAxisID: "rsi", order: 2 },
        ] as any,
      },
      plugins: [overlayPlugin],
      options: {
        animation: false,
        responsive: false,
        devicePixelRatio: 1,
        layout: { padding: { left: L, top: TOP, right: 2622 - FR, bottom: 1514 - BOT } },
        plugins: { legend: { display: false }, title: { display: false }, tooltip: { enabled: false } },
        scales: {
          x: {
            type: "linear",
            position: "bottom",
            min: xMin,
            max: xMax,
            offset: false,
            afterBuildTicks: (s: any) => { s.ticks = monthTicks.map((value) => ({ value })); },
            afterFit: (s: any) => { s.height = BOT - P3; },
            grid: { color: "rgba(42,46,57,0.06)", lineWidth: 2, offset: false, drawTicks: false },
            border: { display: false },
            ticks: {
              autoSkip: false,
              maxRotation: 0,
              padding: 14,
              color: TEXT,
              font: (ctx: any) => {
                const i = monthTicks.indexOf(ctx.tick?.value);
                return { family: FONT, size: 24, weight: monthLabels[i]?.startsWith("20") ? "700" : "400" };
              },
              callback: (v: any) => monthLabels[monthTicks.indexOf(v)] ?? "",
            },
          },
          y: {
            type: "linear",
            position: "right",
            stack: "panes",
            stackWeight: P1 - TOP,
            min: PRICE_MIN,
            max: PRICE_MAX,
            afterBuildTicks: (s: any) => { s.ticks = priceTicks.map((value) => ({ value })); },
            afterFit: (s: any) => { s.width = FR - R; },
            grid: { color: "rgba(42,46,57,0.06)", lineWidth: 2, drawTicks: false },
            border: { display: false },
            ticks: { padding: 18, color: TEXT, font: { family: FONT, size: 24 }, autoSkip: false, callback: (v: any) => Number(v).toFixed(3) + "%" },
          },
          rsi: {
            type: "linear",
            position: "right",
            stack: "panes",
            stackWeight: P2 - P1,
            min: 17.2,
            max: 88.35,
            afterBuildTicks: (s: any) => { s.ticks = rsiTicks.map((value) => ({ value })); },
            afterFit: (s: any) => { s.width = FR - R; },
            grid: { color: "rgba(42,46,57,0.06)", lineWidth: 2, drawTicks: false },
            border: { display: false },
            ticks: { padding: 18, color: TEXT, font: { family: FONT, size: 24 }, autoSkip: false, callback: (v: any) => Number(v).toFixed(2) },
          },
          macd: {
            type: "linear",
            position: "right",
            stack: "panes",
            stackWeight: P3 - P2,
            min: 0,
            max: 1,
            afterBuildTicks: (s: any) => { s.ticks = []; },
            afterFit: (s: any) => { s.width = FR - R; },
            grid: { display: false },
            border: { display: false },
            ticks: { display: false },
          },
        },
      } as any,
    });
    return () => chart.destroy();
  }, []);

  return (
    <div style={{ position: "fixed", left: 0, top: 0, width: 2622, height: 1514, background: "#fff", overflow: "hidden" }}>
      <canvas ref={ref} width={2622} height={1514} style={{ position: "absolute", left: 0, top: 0, width: 2622, height: 1514 }} />
      {legendRows.map((r, i) => (
        <div key={i} style={{ position: "absolute", left: r.left, top: r.top, transform: "translateY(-50%)", font: `24px ${FONT}`, whiteSpace: "nowrap" }}>
          {r.parts.map((p, j) => <span key={j} style={{ color: p.c }}>{p.t}</span>)}
        </div>
      ))}
      <svg style={{ position: "absolute", left: 20, top: 1468 }} width="40" height="20" viewBox="0 0 40 20">
        <path d="M0 0h16v20H8V8H0z" fill={TEXT} />
        <circle cx="22" cy="4" r="4" fill={TEXT} />
        <path d="M30 0h10l-8 20H21z" fill={TEXT} />
      </svg>
      <div style={{ position: "absolute", left: 67, top: 1478, transform: "translateY(-50%)", font: `500 26px ${FONT}`, color: TEXT, letterSpacing: -0.4 }}>TradingView</div>
    </div>
  );
}
